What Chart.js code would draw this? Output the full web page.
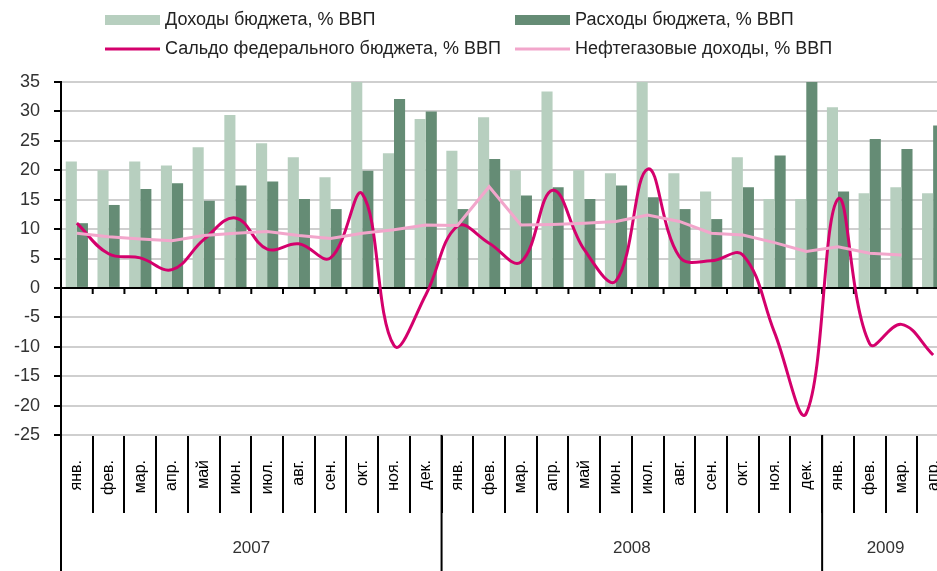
<!DOCTYPE html>
<html>
<head>
<meta charset="utf-8">
<title>Бюджет, % ВВП</title>
<script src="https://cdn.jsdelivr.net/npm/chart.js@4.4.1/dist/chart.umd.min.js"></script>
<style>
  html, body { margin: 0; padding: 0; overflow: hidden; background: #fff; }
</style>
</head>
<body>
<canvas id="budgetChart" width="950" height="571"></canvas>
<script>
const months = ['янв.', 'фев.', 'мар.', 'апр.', 'май', 'июн.', 'июл.', 'авг.', 'сен.', 'окт.', 'ноя.', 'дек.',
                'янв.', 'фев.', 'мар.', 'апр.', 'май', 'июн.', 'июл.', 'авг.', 'сен.', 'окт.', 'ноя.', 'дек.',
                'янв.', 'фев.', 'мар.', 'апр.'];
const years = ['2007', '2008', '2009'];
const yearStart = [0, 12, 24];
const yearEnd = [12, 24, 28];

const revenue = [21.5, 20.0, 21.5, 20.8, 23.9, 29.4, 24.6, 22.2, 18.8, 36.0, 22.9, 28.7,
                 23.3, 29.0, 20.0, 33.4, 20.0, 19.5, 35.5, 19.5, 16.4, 22.2, 15.1, 15.1,
                 30.7, 16.1, 17.1, 16.1];
const expenses = [11.0, 14.1, 16.8, 17.8, 14.8, 17.4, 18.1, 15.1, 13.4, 19.9, 32.1, 30.0,
                  13.4, 21.9, 15.7, 17.1, 15.1, 17.4, 15.4, 13.4, 11.7, 17.1, 22.5, 37.0,
                  16.4, 25.3, 23.6, 27.6];
const balance = [11.0, 5.8, 5.1, 3.1, 8.2, 11.9, 6.6, 7.5, 5.1, 16.0, -9.8, -1.2,
                 10.5, 7.6, 4.4, 16.6, 6.5, 1.2, 20.2, 5.3, 4.6, 5.6, -7.6, -21.3,
                 15.1, -9.5, -6.2, -11.4];
const oilGas = [9.3, 8.7, 8.3, 8.0, 8.9, 9.3, 9.6, 8.9, 8.4, 9.3, 9.9, 10.7,
                10.6, 17.2, 10.7, 10.8, 11.0, 11.3, 12.4, 11.3, 9.3, 9.0, 7.7, 6.2,
                7.0, 5.9, 5.6, null];

Chart.defaults.font.family = "'Liberation Sans', Arial, sans-serif";

// легенда в две колонки, подписи годов и разделители под осью
const decor = {
    id: 'decor',
    beforeDatasetsDraw(chart) {
        const { ctx, scales: { x, y } } = chart;
        const y0 = y.getPixelForValue(0);
        const half = (x.getPixelForValue(1) - x.getPixelForValue(0)) / 2;
        ctx.save();
        ctx.strokeStyle = '#000';
        ctx.lineWidth = 2;
        ctx.beginPath();
        for (let i = 0; i <= months.length; i++) {
            const px = x.getPixelForValue(i) - half;
            ctx.moveTo(px, y0);
            ctx.lineTo(px, y0 + 6);
        }
        ctx.stroke();
        ctx.restore();
    },
    afterDraw(chart) {
        const { ctx, scales: { x }, chartArea } = chart;
        const half = (x.getPixelForValue(1) - x.getPixelForValue(0)) / 2;
        ctx.save();
        ctx.strokeStyle = '#000';
        ctx.lineWidth = 2;
        ctx.beginPath();
        yearStart.forEach(i => {
            const px = x.getPixelForValue(i) - half;
            ctx.moveTo(px, chartArea.bottom);
            ctx.lineTo(px, chart.height);
        });
        ctx.stroke();

        ctx.fillStyle = '#333';
        ctx.font = "17px 'Liberation Sans', Arial, sans-serif";
        ctx.textAlign = 'center';
        ctx.textBaseline = 'middle';
        years.forEach((yr, k) => {
            const a = x.getPixelForValue(yearStart[k]) - half;
            const b = x.getPixelForValue(yearEnd[k]) - half;
            ctx.fillText(yr, (a + b) / 2, 548);
        });

        // легенда
        const slots = [[105, 20], [515, 20], [105, 49], [515, 49]];
        ctx.font = "18px 'Liberation Sans', Arial, sans-serif";
        ctx.textAlign = 'left';
        chart.data.datasets.forEach((ds, i) => {
            const [lx, ly] = slots[i];
            if (ds.type === 'line') {
                ctx.strokeStyle = ds.borderColor;
                ctx.lineWidth = 3;
                ctx.beginPath();
                ctx.moveTo(lx, ly);
                ctx.lineTo(lx + 55, ly);
                ctx.stroke();
            } else {
                ctx.fillStyle = ds.backgroundColor;
                ctx.fillRect(lx, ly - 5, 55, 10);
            }
            ctx.fillStyle = '#222';
            ctx.fillText(ds.label, lx + 60, ly);
        });
        ctx.restore();
    }
};

const ctx = document.getElementById('budgetChart').getContext('2d');
new Chart(ctx, {
    data: {
        labels: months,
        datasets: [
            { type: 'bar', label: 'Доходы бюджета, % ВВП', data: revenue,
              backgroundColor: '#b7cfbf', order: 2, clip: 0 },
            { type: 'bar', label: 'Расходы бюджета, % ВВП', data: expenses,
              backgroundColor: '#658c75', order: 2, clip: 0 },
            { type: 'line', label: 'Сальдо федерального бюджета, % ВВП', data: balance,
              borderColor: '#d4006c', borderWidth: 3, tension: 0.4, pointRadius: 0, order: 1 },
            { type: 'line', label: 'Нефтегазовые доходы, % ВВП', data: oilGas,
              borderColor: '#f2a6cb', borderWidth: 3, tension: 0, pointRadius: 0, order: 0 }
        ]
    },
    options: {
        responsive: false,
        animation: false,
        layout: { padding: { top: 82, right: 1, left: 0, bottom: 0 } },
        datasets: { bar: { barPercentage: 1.0, categoryPercentage: 0.7 } },
        plugins: { legend: { display: false }, tooltip: { enabled: false } },
        scales: {
            x: {
                grid: { offset: true, drawOnChartArea: false, drawTicks: true, tickLength: 78,
                        tickColor: '#000', lineWidth: 2 },
                border: { display: false },
                ticks: { autoSkip: false, minRotation: 90, maxRotation: 90, padding: -53,
                         color: '#000', font: { size: 16 } },
                afterFit: s => { s.height = 136; s.paddingLeft = 0; s.paddingRight = 0; }
            },
            y: {
                min: -25,
                max: 35,
                ticks: { stepSize: 5, padding: 14, color: '#333', font: { size: 18 } },
                grid: {
                    color: c => c.tick && c.tick.value === 0 ? '#000' : '#cfcfcf',
                    lineWidth: 2,
                    tickColor: '#000',
                    tickLength: 7
                },
                border: { color: '#000', width: 2 },
                afterFit: s => { s.width = 61; s.paddingTop = 0; s.paddingBottom = 0; }
            }
        }
    },
    plugins: [decor]
});
</script>
</body>
</html>
